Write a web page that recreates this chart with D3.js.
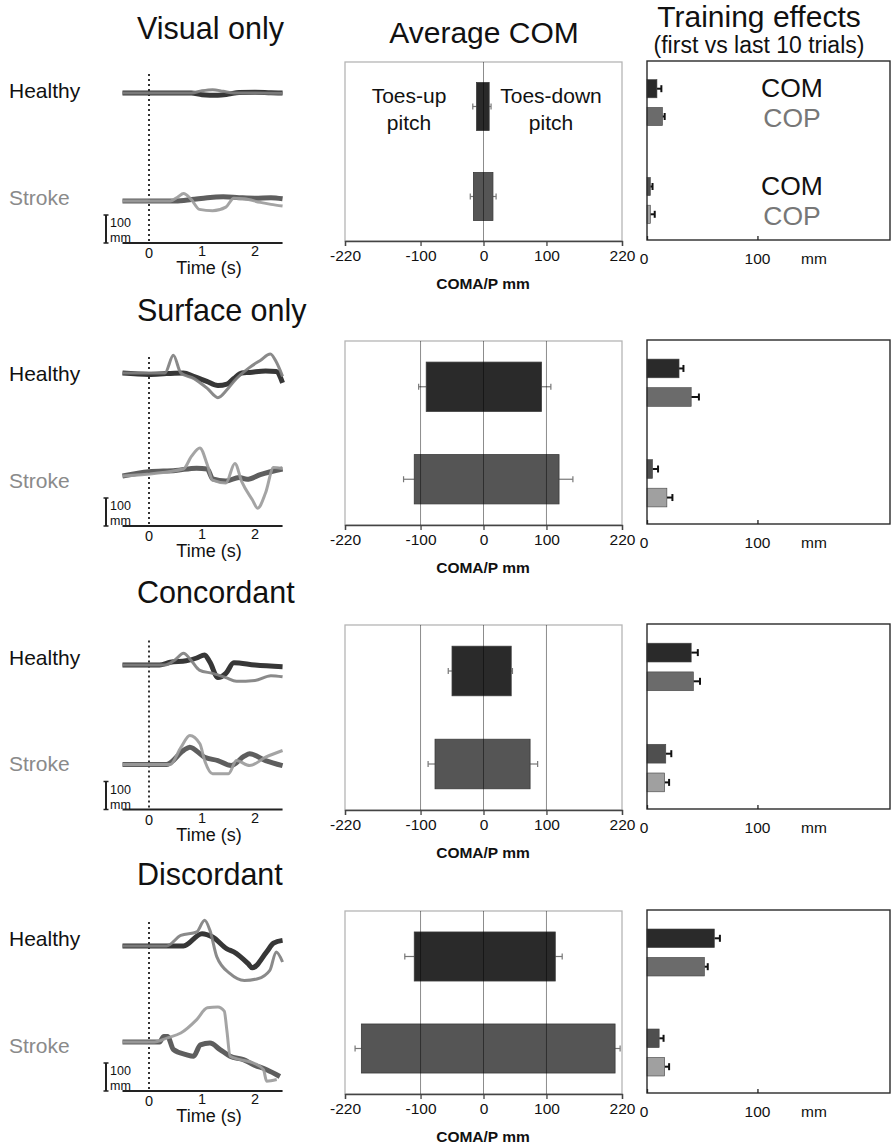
<!DOCTYPE html>
<html>
<head>
<meta charset="utf-8">
<script src="https://cdn.jsdelivr.net/npm/d3@7"></script>
<style>
  body { margin: 0; background: #fff; }
  svg text { font-family: "Liberation Sans", Arial, Helvetica, sans-serif; }
</style>
</head>
<body>
<script>
// ---- data ----
var conditions = ["Visual only", "Surface only", "Concordant", "Discordant"];
var groups = ["Healthy", "Stroke"];
var measures = ["COM", "COP"];
var timeTicks = [0, 1, 2];
var comTicks = [-220, -100, 0, 100, 220];
var trainTicks = [0, 100];
var gridValues = [[0], [-100, 0, 100], [-100, 0, 100], [-100, 0, 100]];

// average COM (mm): toes-up extent (negative), toes-down extent (positive), error ends
var upHealthy = [-11, -91, -50, -110];
var upHealthyErr = [-17, -103, -56, -125];
var downHealthy = [9, 92, 44, 114];
var downHealthyErr = [12, 107, 46, 125];
var upStroke = [-16, -110, -77, -194];
var upStrokeErr = [-21, -127, -88, -204];
var downStroke = [15, 120, 74, 209];
var downStrokeErr = [20, 142, 86, 217];

// training effects (mm), first vs last 10 trials
var trainHealthyCOM = [9, 29, 40, 61];
var trainHealthyCOMErr = [13, 33, 46, 66];
var trainHealthyCOP = [14, 40, 42, 52];
var trainHealthyCOPErr = [16, 47, 48, 55];
var trainStrokeCOM = [3, 5, 17, 11];
var trainStrokeCOMErr = [5, 10, 22, 15];
var trainStrokeCOP = [3, 18, 16, 16];
var trainStrokeCOPErr = [7, 23, 20, 20];

// example traces [time s, displacement mm]
var visualHealthyDark = [[-0.5,0],[0.8,0],[1.0,-6],[1.3,-8],[1.5,-4],[1.7,2],[2.0,3],[2.3,1],[2.52,0]];
var visualHealthyGray = [[-0.5,0],[0.8,0],[1.0,8],[1.2,12],[1.4,6],[1.6,0],[2.0,0],[2.52,-1]];
var visualStrokeDark = [[-0.5,0],[0.5,0],[0.8,5],[1.1,12],[1.4,15],[1.7,12],[2.0,10],[2.3,12],[2.52,8]];
var visualStrokeGray = [[-0.5,0],[0.4,0],[0.55,15],[0.65,27],[0.8,5],[0.95,-30],[1.2,-35],[1.45,-22],[1.6,10],[1.8,8],[2.1,-5],[2.3,-12],[2.52,-18]];

var surfaceHealthyDark = [[-0.5,0],[0,-5],[0.33,-2],[0.65,0],[0.84,-12],[1.09,-30],[1.3,-45],[1.47,-40],[1.6,-20],[1.75,0],[1.9,2],[2.2,7],[2.4,5],[2.52,-35]];
var surfaceHealthyGray = [[-0.5,0],[0.3,0],[0.46,63],[0.6,0],[0.85,-20],[1.1,-55],[1.3,-88],[1.47,-60],[1.6,-30],[1.9,20],[2.1,45],[2.29,68],[2.4,40],[2.52,-12]];
var surfaceStrokeDark = [[-0.5,0],[0,15],[0.5,20],[0.9,28],[1.1,25],[1.2,-10],[1.45,-18],[1.7,-5],[1.85,-12],[2.1,5],[2.52,25]];
var surfaceStrokeGray = [[-0.5,0],[0.65,25],[0.8,70],[0.96,100],[1.1,40],[1.2,-15],[1.45,-25],[1.62,45],[1.75,-20],[1.95,-85],[2.05,-115],[2.2,-60],[2.35,30],[2.52,27]];

var concordHealthyDark = [[-0.5,0],[0.2,0],[0.4,10],[0.7,15],[0.9,25],[1.05,36],[1.15,10],[1.3,-45],[1.45,-30],[1.6,8],[2.0,0],[2.52,-6]];
var concordHealthyGray = [[-0.5,0],[0.3,0],[0.5,20],[0.65,42],[0.8,15],[0.95,-18],[1.2,-30],[1.45,-45],[1.65,-58],[2.0,-55],[2.3,-38],[2.52,-42]];
var concordStrokeDark = [[-0.5,0],[0.33,0],[0.65,50],[0.77,62],[1.05,26],[1.3,14],[1.55,-4],[1.8,30],[1.9,38],[2.2,14],[2.52,-4]];
var concordStrokeGray = [[-0.5,0],[0.4,0],[0.6,60],[0.77,104],[0.96,74],[1.05,14],[1.2,-33],[1.5,-33],[1.65,14],[1.9,-4],[2.2,26],[2.52,50]];

var discordHealthyDark = [[-0.5,0],[0.65,0],[1.0,44],[1.2,32],[1.47,-10],[1.6,-21],[1.87,-63],[1.95,-78],[2.22,-21],[2.35,10],[2.52,20]];
var discordHealthyGray = [[-0.5,0],[0.33,0],[0.6,38],[0.9,50],[1.05,92],[1.15,56],[1.28,-39],[1.53,-99],[1.8,-123],[2.05,-117],[2.28,-87],[2.4,-21],[2.52,-57]];
var discordStrokeDark = [[-0.5,0],[0.2,0],[0.28,20],[0.35,20],[0.46,-27],[0.7,-45],[0.84,-51],[0.97,-10],[1.15,-4],[1.34,-27],[1.53,-51],[1.78,-63],[1.97,-81],[2.22,-99],[2.47,-123]];
var discordStrokeGray = [[-0.5,0],[0.1,0],[0.35,15],[0.6,32],[0.9,80],[1.1,122],[1.3,125],[1.42,110],[1.47,40],[1.53,-51],[1.72,-63],[1.97,-75],[2.16,-99],[2.22,-140],[2.41,-134]];

var traces = [
  [visualHealthyDark, visualHealthyGray, visualStrokeDark, visualStrokeGray],
  [surfaceHealthyDark, surfaceHealthyGray, surfaceStrokeDark, surfaceStrokeGray],
  [concordHealthyDark, concordHealthyGray, concordStrokeDark, concordStrokeGray],
  [discordHealthyDark, discordHealthyGray, discordStrokeDark, discordStrokeGray]
];

// ---- layout ----
var W = 891, H = 1147;
var titleY = [39, 321, 603, 885];
var boxTop = [62, 341, 625, 911];
var boxBottom = [241, 525, 810, 1094];
var timeAxisY = [243, 526, 809.5, 1091];
var healthyBase = [-150, -153, -144.5, -145];
var strokeBase = [-42, -50, -45, -49];

var svg = d3.select("body").append("svg")
    .attr("width", W)
    .attr("height", H);

var xT = d3.scaleLinear().domain([-0.5, 2.5]).range([122.5, 281.5]);
var xAvg = d3.scaleLinear().domain([-220, 220]).range([345, 622]);
var xTrain = d3.scaleLinear().domain([0, 220]).range([647, 890]);

var traceStyle = [
  {color: "#262626", width: 5},
  {color: "#808080", width: 3},
  {color: "#505050", width: 5},
  {color: "#9c9c9c", width: 3}
];
var avgFill = {Healthy: "#2a2a2a", Stroke: "#555555"};
var trainFill = {HealthyCOM: "#2a2a2a", HealthyCOP: "#6b6b6b", StrokeCOM: "#4f4f4f", StrokeCOP: "#a0a0a0"};

// column headers
svg.append("text").attr("x", 484).attr("y", 43).attr("text-anchor", "middle")
    .style("font-size", "30px").style("fill", "#111").text("Average COM");
svg.append("text").attr("x", 759).attr("y", 27).attr("text-anchor", "middle")
    .style("font-size", "30px").style("fill", "#111").text("Training effects");
svg.append("text").attr("x", 759).attr("y", 53).attr("text-anchor", "middle")
    .style("font-size", "23px").style("fill", "#111").text("(first vs last 10 trials)");

conditions.forEach(function(cond, i) {
    var g = svg.append("g").attr("class", "row");

    g.append("text").attr("x", 137).attr("y", titleY[i])
        .style("font-size", "30.5px").style("fill", "#111").text(cond);

    /*
      left: example traces
    */
    var ax = timeAxisY[i];
    g.append("text").attr("x", 9).attr("y", ax - 145)
        .style("font-size", "21px").style("fill", "#111").text(groups[0]);
    g.append("text").attr("x", 9).attr("y", ax - 38.5)
        .style("font-size", "21px").style("fill", "#8a8a8a").text(groups[1]);

    g.append("line")
        .attr("x1", xT(0)).attr("x2", xT(0))
        .attr("y1", ax - 169).attr("y2", ax - 2)
        .style("stroke", "#333").style("stroke-width", 2)
        .style("stroke-dasharray", "2,3");

    var bases = [healthyBase[i], healthyBase[i], strokeBase[i], strokeBase[i]];
    traces[i].forEach(function(tr, k) {
        var y = d3.scaleLinear().domain([-100, 100])
            .range([ax + bases[k] + 28, ax + bases[k] - 28]);
        var line = d3.line()
            .x(function(d) { return xT(d[0]); })
            .y(function(d) { return y(d[1]); })
            .curve(d3.curveMonotoneX);
        g.append("path").datum(tr)
            .attr("d", line)
            .style("fill", "none")
            .style("stroke", traceStyle[k].color)
            .style("stroke-width", traceStyle[k].width)
            .style("stroke-linejoin", "round")
            .style("opacity", 0.92);
    });

    // time axis
    g.append("line")
        .attr("x1", xT(-0.5)).attr("x2", xT(2.52))
        .attr("y1", ax).attr("y2", ax)
        .style("stroke", "#222").style("stroke-width", 2);
    g.selectAll("text.tt").data(timeTicks).enter().append("text")
        .attr("class", "tt")
        .attr("x", function(d) { return xT(d); })
        .attr("y", function(d) { return d === 0 ? ax + 15 : ax + 13; })
        .attr("text-anchor", "middle")
        .style("font-size", "14.5px").style("fill", "#111")
        .text(function(d) { return d; });
    g.append("text").attr("x", 209).attr("y", ax + 31).attr("text-anchor", "middle")
        .style("font-size", "18px").style("fill", "#111").text("Time (s)");

    // 100 mm scale bar
    var mm = d3.scaleLinear().domain([0, 100]).range([ax, ax - 28]);
    g.append("line").attr("x1", 106).attr("x2", 106)
        .attr("y1", mm(0)).attr("y2", mm(100))
        .style("stroke", "#222").style("stroke-width", 2);
    [0, 100].forEach(function(v) {
        g.append("line").attr("x1", 103.5).attr("x2", 108.5)
            .attr("y1", mm(v)).attr("y2", mm(v))
            .style("stroke", "#222").style("stroke-width", 1.5);
    });
    g.append("text").attr("x", 110).attr("y", ax - 16)
        .style("font-size", "12.5px").style("fill", "#111").text("100");
    g.append("text").attr("x", 110).attr("y", ax - 1)
        .style("font-size", "12.5px").style("fill", "#111").text("mm");

    /*
      middle: average COM
    */
    var top = boxTop[i], bot = boxBottom[i];
    var yAvg = d3.scaleBand().domain(groups).range([top, bot])
        .paddingInner(0.467).paddingOuter(0.228);

    var avgRows = [
        {grp: "Healthy", lo: upHealthy[i], hi: downHealthy[i], loE: upHealthyErr[i], hiE: downHealthyErr[i]},
        {grp: "Stroke", lo: upStroke[i], hi: downStroke[i], loE: upStrokeErr[i], hiE: downStrokeErr[i]}
    ];

    g.append("rect").attr("x", xAvg(-220)).attr("y", top)
        .attr("width", xAvg(220) - xAvg(-220)).attr("height", bot - top)
        .style("fill", "none").style("stroke", "#b5b5b5").style("stroke-width", 1.3);

    avgRows.forEach(function(d) {
        var cy = yAvg(d.grp) + yAvg.bandwidth() / 2;
        [[d.lo, d.loE], [d.hi, d.hiE]].forEach(function(e) {
            g.append("line").attr("x1", xAvg(e[0])).attr("x2", xAvg(e[1]))
                .attr("y1", cy).attr("y2", cy)
                .style("stroke", "#777").style("stroke-width", 1.2);
            g.append("line").attr("x1", xAvg(e[1])).attr("x2", xAvg(e[1]))
                .attr("y1", cy - 3).attr("y2", cy + 3)
                .style("stroke", "#777").style("stroke-width", 1.2);
        });
        g.append("rect")
            .attr("x", xAvg(d.lo)).attr("y", yAvg(d.grp))
            .attr("width", xAvg(d.hi) - xAvg(d.lo))
            .attr("height", yAvg.bandwidth())
            .style("fill", avgFill[d.grp])
            .style("stroke", "#3a3a3a").style("stroke-width", 0.8);
    });

    g.selectAll("line.grid").data(gridValues[i]).enter().append("line")
        .attr("class", "grid")
        .attr("x1", function(d) { return xAvg(d); })
        .attr("x2", function(d) { return xAvg(d); })
        .attr("y1", top).attr("y2", bot)
        .style("stroke", "rgba(0,0,0,0.45)").style("stroke-width", 1);

    var avgAxis = d3.axisBottom(xAvg).tickValues(comTicks).tickSize(5).tickPadding(4)
        .tickFormat(function(d) { return String(d); });
    var ag = g.append("g").attr("transform", "translate(0," + bot + ")").call(avgAxis);
    ag.select(".domain").style("stroke", "#444").style("stroke-width", 1.3);
    ag.selectAll(".tick line").style("stroke", "#444").style("stroke-width", 1.3);
    ag.selectAll(".tick text").style("font-size", "15.5px").style("fill", "#111")
        .style("font-family", "Liberation Sans, Arial, sans-serif");

    g.append("text").attr("x", 483).attr("y", bot + 48).attr("text-anchor", "middle")
        .style("font-size", "15.5px").style("font-weight", "bold").style("fill", "#111")
        .text("COMA/P mm");

    if (i === 0) {
        [["Toes-up", 409], ["Toes-down", 551]].forEach(function(t) {
            g.append("text").attr("x", t[1]).attr("y", top + 41).attr("text-anchor", "middle")
                .style("font-size", "21px").style("fill", "#111").text(t[0]);
            g.append("text").attr("x", t[1]).attr("y", top + 68).attr("text-anchor", "middle")
                .style("font-size", "21px").style("fill", "#111").text("pitch");
        });
    }

    /*
      right: training effects
    */
    var yGrp = d3.scaleBand().domain(groups).range([top, bot])
        .paddingInner(0.53).paddingOuter(0.18);
    var yMeas = d3.scaleBand().domain(measures).range([0, yGrp.bandwidth()])
        .paddingInner(0.345);

    var trainRows = [
        {grp: "Healthy", m: "COM", v: trainHealthyCOM[i], e: trainHealthyCOMErr[i]},
        {grp: "Healthy", m: "COP", v: trainHealthyCOP[i], e: trainHealthyCOPErr[i]},
        {grp: "Stroke", m: "COM", v: trainStrokeCOM[i], e: trainStrokeCOMErr[i]},
        {grp: "Stroke", m: "COP", v: trainStrokeCOP[i], e: trainStrokeCOPErr[i]}
    ];

    trainRows.forEach(function(d) {
        var y0 = yGrp(d.grp) + yMeas(d.m);
        var cy = y0 + yMeas.bandwidth() / 2;
        g.append("line").attr("x1", xTrain(d.v)).attr("x2", xTrain(d.e))
            .attr("y1", cy).attr("y2", cy)
            .style("stroke", "#111").style("stroke-width", 2);
        g.append("line").attr("x1", xTrain(d.e)).attr("x2", xTrain(d.e))
            .attr("y1", cy - 3.5).attr("y2", cy + 3.5)
            .style("stroke", "#111").style("stroke-width", 2);
        g.append("rect")
            .attr("x", xTrain(0)).attr("y", y0)
            .attr("width", xTrain(d.v) - xTrain(0))
            .attr("height", yMeas.bandwidth())
            .style("fill", trainFill[d.grp + d.m])
            .style("stroke", "#444").style("stroke-width", 0.6);
    });

    g.append("rect").attr("x", xTrain(0)).attr("y", top - 1)
        .attr("width", xTrain(220) - xTrain(0)).attr("height", bot - top)
        .style("fill", "none").style("stroke", "#2a2a2a").style("stroke-width", 1.4);

    var trainAxis = d3.axisTop(xTrain).tickValues(trainTicks).tickSize(4).tickFormat("");
    var tg = g.append("g").attr("transform", "translate(0," + (bot - 1) + ")").call(trainAxis);
    tg.select(".domain").remove();
    tg.selectAll(".tick line").style("stroke", "#222").style("stroke-width", 1.3);

    g.selectAll("text.trl").data(trainTicks).enter().append("text")
        .attr("class", "trl")
        .attr("x", function(d) { return d === 0 ? xTrain(d) - 3 : xTrain(d); })
        .attr("y", bot + 23)
        .attr("text-anchor", "middle")
        .style("font-size", "15.5px").style("fill", "#111")
        .text(function(d) { return d; });
    g.append("text").attr("x", 814).attr("y", bot + 23).attr("text-anchor", "middle")
        .style("font-size", "15.5px").style("fill", "#111").text("mm");

    if (i === 0) {
        trainRows.forEach(function(d) {
            var cy = yGrp(d.grp) + yMeas(d.m) + yMeas.bandwidth();
            var shift = d.m === "COM" ? -1 : 1.5;
            g.append("text").attr("x", 792).attr("y", cy + shift).attr("text-anchor", "middle")
                .style("font-size", "26.5px")
                .style("fill", d.m === "COM" ? "#111" : "#777")
                .text(d.m);
        });
    }
});
</script>
</body>
</html>
